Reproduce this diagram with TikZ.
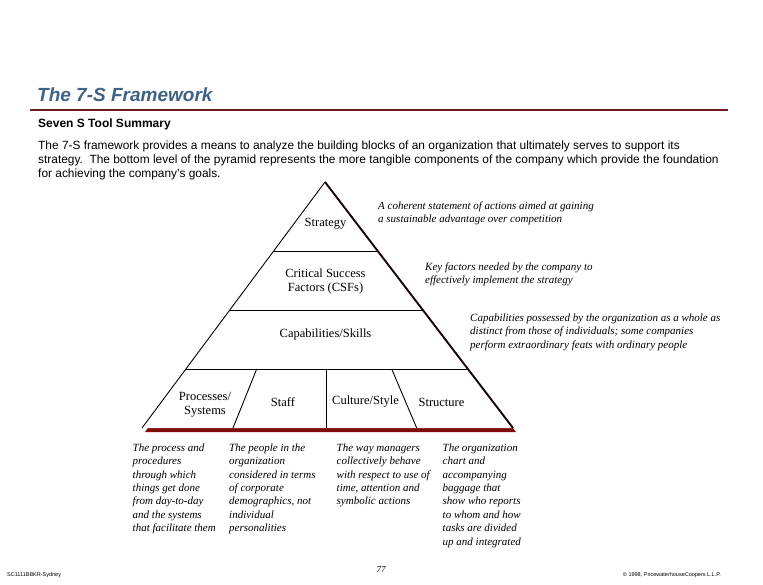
\documentclass[tikz,border=0pt]{standalone}
\usepackage{fontspec}
\setmainfont{Liberation Serif}
\setsansfont{Liberation Sans}
\usetikzlibrary{calc}
\definecolor{titleblue}{HTML}{3E6286}
\definecolor{rule}{HTML}{6E1E1E}
\definecolor{shadow}{HTML}{7F0A0A}
\tikzset{
  hdr/.style={font=\sffamily, inner sep=0pt, anchor=west},
  layer/.style={font=\fontsize{12.5}{14}\selectfont, inner sep=0pt, align=center},
  note/.style={font=\itshape\fontsize{11}{13.4}\selectfont, inner sep=0pt, align=left, anchor=north west},
  pyr/.style={draw=black, line width=0.9pt, line join=miter},
  foot/.style={font=\sffamily\fontsize{5.5}{6}\selectfont, inner sep=0pt},
}
\begin{document}
\begin{tikzpicture}[x=1pt,y=-1pt]
\useasboundingbox (0,0) rectangle (763,585);
% header
\node[hdr, font=\sffamily\bfseries\itshape\fontsize{19}{22}\selectfont, text=titleblue] (title) at (37,95) {The 7-S Framework};
\coordinate (rl) at (30,110);
\coordinate (rr) at (728,110);
\draw[rule, line width=2.2pt] (rl) -- (rr);
\node[hdr, font=\sffamily\bfseries\fontsize{12}{14}\selectfont] (sub) at (38,124) {Seven S Tool Summary};
\node[hdr, anchor=north west, align=left, font=\sffamily\fontsize{11.9}{14}\selectfont] (body) at (38,140.5)
  {The 7-S framework provides a means to analyze the building blocks of an organization that ultimately serves to support its\\
   strategy.\ \ The bottom level of the pyramid represents the more tangible components of the company which provide the foundation\\
   for achieving the company's goals.};
% pyramid
\coordinate (A) at (325,182);
\coordinate (BL) at (142,428);
\coordinate (BR) at (513,428);
\fill[shadow] ($(A)+(3,4)$) -- ($(BR)+(3,4)$) -- ($(BL)+(3,4)$) -- cycle;
\fill[white] (A) -- (BR) -- (BL) -- cycle;
\coordinate (L1) at ($(A)!0.2805!(BL)$);
\coordinate (R1) at ($(A)!0.2805!(BR)$);
\coordinate (L2) at ($(A)!0.520!(BL)$);
\coordinate (R2) at ($(A)!0.520!(BR)$);
\coordinate (L3) at ($(A)!0.760!(BL)$);
\coordinate (R3) at ($(A)!0.760!(BR)$);
\draw[pyr, line width=0.8pt] (L1) -- (R1);
\draw[pyr, line width=0.8pt] (L2) -- (R2);
\draw[pyr, line width=0.8pt] (L3) -- (R3);
\coordinate (d1t) at (256.7,369); \coordinate (d1b) at (233,428);
\coordinate (d2t) at (326.7,369); \coordinate (d2b) at (326.7,428);
\coordinate (d3t) at (391.7,369); \coordinate (d3b) at (416.7,428);
\draw[pyr] (d1t) -- (d1b);
\draw[pyr, line width=0.8pt] (d2t) -- (d2b);
\draw[pyr] (d3t) -- (d3b);
\draw[pyr] (BL) -- (A);
\draw[draw=black!80!shadow, line width=1.9pt] (A) -- (BR);
% layer labels
\node[layer] (strategy) at (325.5,224) {Strategy};
\node[layer] (csf) at (325.5,281.5) {Critical Success\\Factors (CSFs)};
\node[layer] (cap) at (325.5,334) {Capabilities/Skills};
\node[layer] (proc) at (205,404.5) {Processes/\\Systems};
\node[layer] (staff) at (283,402) {Staff};
\node[layer] (cult) at (365.5,402) {Culture/Style};
\node[layer] (struct) at (441.5,402) {Structure};
% right annotations
\node[note] (n1) at (378,201.5) {A coherent statement of actions aimed at gaining\\a sustainable advantage over competition};
\node[note] (n2) at (425,262.5) {Key factors needed by the company to\\effectively implement the strategy};
\node[note] (n3) at (470,313.5) {Capabilities possessed by the organization as a whole as\\distinct from those of individuals; some companies\\perform extraordinary feats with ordinary people};
% bottom descriptions
\node[note] (c1) at (132.5,443.5) {The process and\\procedures\\through which\\things get done\\from day-to-day\\and the systems\\that facilitate them};
\node[note] (c2) at (229,443.5) {The people in the\\organization\\considered in terms\\of corporate\\demographics, not\\individual\\personalities};
\node[note] (c3) at (336.5,443.5) {The way managers\\collectively behave\\with respect to use of\\time, attention and\\symbolic actions};
\node[note] (c4) at (442.5,443.5) {The organization\\chart and\\accompanying\\baggage that\\show who reports\\to whom and how\\tasks are divided\\up and integrated};
% footer
\node[foot, anchor=west] (f1) at (7,575) {SC1111BBKR-Sydney};
\node[font=\itshape\fontsize{9}{10}\selectfont, inner sep=0pt] (pg) at (381,570) {77};
\node[foot, anchor=east] (f2) at (721,575) {\textcopyright{} 1998, PricewaterhouseCoopers L.L.P.};
\end{tikzpicture}
\end{document}
